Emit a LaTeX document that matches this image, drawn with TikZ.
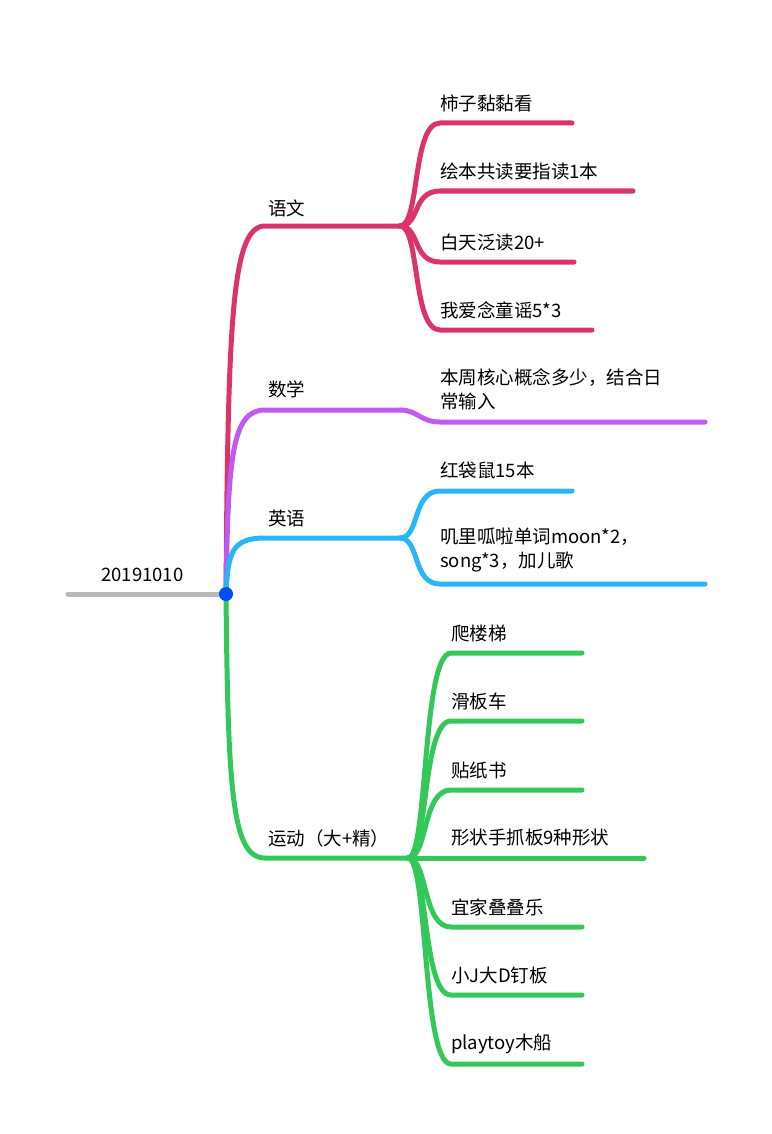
\documentclass[tikz,border=0pt]{standalone}
\usepackage{fontspec}
\setmainfont{Noto Sans CJK SC}
\begin{document}
\begin{tikzpicture}[x=1pt,y=-1pt,
  lbl/.style={anchor=west,inner sep=0pt,font=\fontsize{18.5}{24}\selectfont},
  br/.style={line width=5pt,line cap=round}]
\definecolor{cred}{HTML}{DC3468}
\definecolor{cpur}{HTML}{BF5AF2}
\definecolor{cblu}{HTML}{29B6F6}
\definecolor{cgrn}{HTML}{34C759}
\path[use as bounding box] (0,0) rectangle (771,1134);
\coordinate (root) at (226,594);
\coordinate (rs) at (68,594);
\draw[br,gray!55] (rs) -- (root);
\node[lbl] (t0) at (101,575) {20191010};
% main branches
\foreach \y/\c/\n/\e in {226/cred/yw/400, 410/cpur/sx/400, 538/cblu/yy/400, 858/cgrn/yd/408}{
  \coordinate (\n a) at (265,\y);
  \coordinate (\n b) at (\e,\y);
  \draw[br,\c] (root) .. controls (228,{\y+0.25*(594-\y)}) and (232,\y) .. (\n a) -- (\n b);
}
\node[lbl] at (268,208) {语文};
\node[lbl] at (268,389) {数学};
\node[lbl] at (268,518) {英语};
\node[lbl] at (268,838) {运动（大+精）};
% yuwen children
\foreach \y/\e/\t in {123/572/柿子黏黏看, 191/633/绘本共读要指读1本, 262/574/白天泛读20+, 330/592/我爱念童谣5*3}{
  \coordinate (c) at (440,\y);
  \draw[br,cred] (ywb) .. controls (420,226) and (412,\y) .. (c) -- (\e,\y);
  \node[lbl] at (440,\y-20) {\t};
}
% shuxue
\coordinate (sxc) at (440,422);
\draw[br,cpur] (sxb) .. controls (418,410) and (420,422) .. (sxc) -- (705,422);
\node[lbl,align=left,anchor=north west] at (440,368) {本周核心概念多少，结合日\\常输入};
% yingyu
\coordinate (yyc1) at (440,491);
\coordinate (yyc2) at (440,584);
\draw[br,cblu] (yyb) .. controls (420,538) and (412,491) .. (yyc1) -- (572,491);
\draw[br,cblu] (yyb) .. controls (420,538) and (412,584) .. (yyc2) -- (705,584);
\node[lbl] at (440,470) {红袋鼠15本};
\node[lbl,align=left,anchor=north west] at (440,528) {叽里呱啦单词moon*2，\\song*3，加儿歌};
% yundong
\foreach \y/\e/\t in {653/582/爬楼梯, 721/582/滑板车, 790/582/贴纸书, 858/644/形状手抓板9种形状, 927/582/宜家叠叠乐, 995/582/小J大D钉板, 1064/582/playtoy木船}{
  \coordinate (c) at (451,\y);
  \draw[br,cgrn] (ydb) .. controls (428,858) and (422,\y) .. (c) -- (\e,\y);
  \node[lbl] at (451,\y-20) {\t};
}
\fill[blue!70!cyan] (root) circle (7);
\end{tikzpicture}
\end{document}
